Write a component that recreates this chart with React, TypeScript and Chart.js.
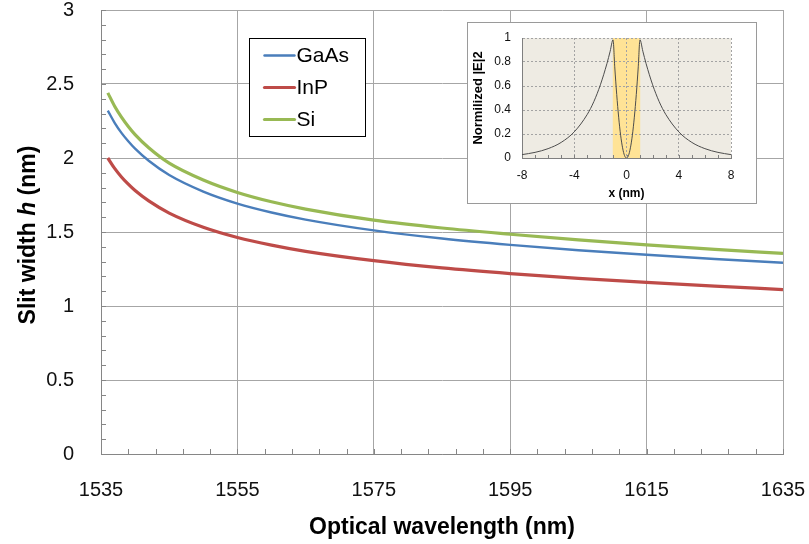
import { useEffect, useRef } from "react";
import { Chart, registerables } from "chart.js";

Chart.register(...registerables);

// ---- main chart data: slit width vs optical wavelength ----
const wavelengthNm = [1536, 1537, 1538, 1539, 1540, 1542, 1545, 1550, 1555, 1560, 1565, 1575, 1585, 1595, 1605, 1615, 1625, 1635];
const slitGaAs = [2.32, 2.238, 2.17, 2.113, 2.063, 1.981, 1.885, 1.773, 1.692, 1.632, 1.584, 1.511, 1.456, 1.413, 1.377, 1.346, 1.318, 1.292];
const slitInP = [2.0, 1.93, 1.872, 1.823, 1.78, 1.71, 1.628, 1.532, 1.463, 1.411, 1.369, 1.306, 1.257, 1.219, 1.187, 1.159, 1.134, 1.111];
const slitSi = [2.44, 2.35, 2.276, 2.213, 2.158, 2.069, 1.965, 1.851, 1.767, 1.704, 1.655, 1.58, 1.527, 1.485, 1.447, 1.413, 1.383, 1.355];
const seriesNames = ["GaAs", "InP", "Si"];
const seriesColors = ["#4a7ebb", "#be4b48", "#98b954"];
const seriesWidths = [2.4, 3.2, 3.2];
const wavelengthTicks = [1535, 1555, 1575, 1595, 1615, 1635];
const slitTicks = [0, 0.5, 1, 1.5, 2, 2.5, 3];

// ---- inset data: normalised field intensity across the slit ----
const fieldX = [-8, -7, -6, -5, -4, -3, -2.5, -2, -1.5, -1.25, -1.03, -0.9, -0.75, -0.6, -0.45, -0.3, -0.15, 0, 0.15, 0.3, 0.45, 0.6, 0.75, 0.9, 1.03, 1.25, 1.5, 2, 2.5, 3, 4, 5, 6, 7, 8];
const fieldIntensity = [0.028, 0.047, 0.078, 0.13, 0.218, 0.364, 0.47, 0.61, 0.786, 0.89, 0.985, 0.76, 0.53, 0.34, 0.19, 0.085, 0.02, 0, 0.02, 0.085, 0.19, 0.34, 0.53, 0.76, 0.985, 0.89, 0.786, 0.61, 0.47, 0.364, 0.218, 0.13, 0.078, 0.047, 0.028];
const slitHalfWidth = 1.05;
const insetXTicks = [-8, -4, 0, 4, 8];
const insetYTicks = [0, 0.2, 0.4, 0.6, 0.8, 1];

const FONT = '"Liberation Sans", Arial, sans-serif';

// keep the plot area exactly where the layout padding puts it
function fixAxis(size: number, horizontal: boolean) {
  return (s: any) => {
    if (horizontal) s.height = size;
    else s.width = size;
    s.paddingTop = 0;
    s.paddingBottom = 0;
    s.paddingLeft = 0;
    s.paddingRight = 0;
  };
}

// small inward minor ticks along the left and bottom axes
function minorTicksPlugin(id: string, xStep: number, yStep: number | null, len: number, color: string) {
  return {
    id,
    afterDraw(chart: any) {
      const { ctx, chartArea, scales } = chart;
      const xs = scales.x;
      const ys = scales.y;
      ctx.save();
      ctx.strokeStyle = color;
      ctx.lineWidth = 1;
      ctx.beginPath();
      for (let v = xs.min; v <= xs.max + 1e-9; v += xStep) {
        const px = Math.round(xs.getPixelForValue(v)) + 0.5;
        ctx.moveTo(px, chartArea.bottom);
        ctx.lineTo(px, chartArea.bottom - len);
      }
      if (yStep !== null) {
        for (let v = ys.min; v <= ys.max + 1e-9; v += yStep) {
          const py = Math.round(ys.getPixelForValue(v)) + 0.5;
          ctx.moveTo(chartArea.left, py);
          ctx.lineTo(chartArea.left + len, py);
        }
      }
      ctx.stroke();
      ctx.restore();
    },
  };
}

// y-axis title with an italic "h"
const slitTitlePlugin = {
  id: "slitTitle",
  afterDraw(chart: any) {
    const { ctx, chartArea } = chart;
    const parts = [
      { t: "Slit width ", f: `bold 23px ${FONT}` },
      { t: "h", f: `italic bold 23px ${FONT}` },
      { t: " (nm)", f: `bold 23px ${FONT}` },
    ];
    ctx.save();
    let total = 0;
    const widths = parts.map((p) => {
      ctx.font = p.f;
      const w = ctx.measureText(p.t).width;
      total += w;
      return w;
    });
    ctx.translate(29, (chartArea.top + chartArea.bottom) / 2 + 3);
    ctx.rotate(-Math.PI / 2);
    ctx.fillStyle = "#000";
    ctx.textBaseline = "middle";
    ctx.textAlign = "left";
    let x = -total / 2;
    parts.forEach((p, i) => {
      ctx.font = p.f;
      ctx.fillText(p.t, x, 0);
      x += widths[i];
    });
    ctx.restore();
  },
};

// boxed legend inside the plot area
const boxLegendPlugin = {
  id: "boxLegend",
  afterDraw(chart: any) {
    const { ctx, chartArea } = chart;
    const left = chartArea.left + 148.5;
    const top = chartArea.top + 28.5;
    const w = 116;
    const h = 98;
    ctx.save();
    ctx.fillStyle = "#fff";
    ctx.fillRect(left, top, w, h);
    ctx.strokeStyle = "#000";
    ctx.lineWidth = 1;
    ctx.strokeRect(left, top, w, h);
    ctx.font = `21px ${FONT}`;
    ctx.textBaseline = "middle";
    ctx.textAlign = "left";
    chart.data.datasets.forEach((ds: any, i: number) => {
      const y = top + 17 + i * 32;
      ctx.strokeStyle = ds.borderColor;
      ctx.lineWidth = ds.borderWidth;
      ctx.lineCap = "round";
      ctx.beginPath();
      ctx.moveTo(left + 15, y);
      ctx.lineTo(left + 45, y);
      ctx.stroke();
      ctx.fillStyle = "#000";
      ctx.fillText(ds.label, left + 47, y + 1);
    });
    ctx.restore();
  },
};

// beige plot background and the highlighted slit region in the inset
const insetBackdropPlugin = {
  id: "insetBackdrop",
  beforeDraw(chart: any) {
    const { ctx, chartArea, scales } = chart;
    ctx.save();
    ctx.fillStyle = "#eeebe3";
    ctx.fillRect(chartArea.left, chartArea.top, chartArea.right - chartArea.left, chartArea.bottom - chartArea.top);
    const x0 = scales.x.getPixelForValue(-slitHalfWidth);
    const x1 = scales.x.getPixelForValue(slitHalfWidth);
    ctx.fillStyle = "#ffe396";
    ctx.fillRect(x0, chartArea.top, x1 - x0, chartArea.bottom - chartArea.top);
    ctx.restore();
  },
};

function MainChart() {
  const ref = useRef<HTMLCanvasElement>(null);
  useEffect(() => {
    const series = [slitGaAs, slitInP, slitSi];
    const chart = new Chart(ref.current!, {
      type: "line",
      data: {
        datasets: series.map((vals, i) => ({
          label: seriesNames[i],
          data: wavelengthNm.map((x, j) => ({ x, y: vals[j] })),
          borderColor: seriesColors[i],
          backgroundColor: seriesColors[i],
          borderWidth: seriesWidths[i],
          pointRadius: 0,
          cubicInterpolationMode: "monotone" as const,
          fill: false,
        })),
      },
      options: {
        animation: false,
        responsive: false,
        devicePixelRatio: 1,
        layout: { padding: { top: 10, right: 26, left: 0, bottom: 0 } },
        plugins: { legend: { display: false }, tooltip: { enabled: false } },
        scales: {
          x: {
            type: "linear",
            min: 1535,
            max: 1635,
            afterBuildTicks: (s: any) => {
              s.ticks = wavelengthTicks.map((value) => ({ value }));
            },
            afterFit: fixAxis(90, true),
            ticks: {
              font: { family: FONT, size: 20, lineHeight: 1 },
              color: "#111",
              padding: 26,
              maxRotation: 0,
              callback: (v: any) => String(v),
            },
            grid: { color: "#a6a6a6", drawTicks: false },
            border: { color: "#868686" },
            title: {
              display: true,
              text: "Optical wavelength (nm)",
              color: "#000",
              font: { family: FONT, size: 23, weight: "bold" },
              padding: { top: 0, bottom: 3 },
            },
          },
          y: {
            type: "linear",
            min: 0,
            max: 3,
            afterBuildTicks: (s: any) => {
              s.ticks = slitTicks.map((value) => ({ value }));
            },
            afterFit: fixAxis(101, false),
            ticks: {
              font: { family: FONT, size: 20, lineHeight: 1 },
              color: "#111",
              padding: 27,
              callback: (v: any) => String(v),
            },
            grid: { color: "#a6a6a6", drawTicks: false },
            border: { color: "#868686" },
          },
        },
      },
      plugins: [minorTicksPlugin("mainMinor", 4, 0.1, 5, "#868686"), slitTitlePlugin, boxLegendPlugin],
    });
    return () => chart.destroy();
  }, []);
  return <canvas ref={ref} width={809} height={544} style={{ position: "absolute", left: 0, top: 0 }} />;
}

function InsetChart() {
  const ref = useRef<HTMLCanvasElement>(null);
  useEffect(() => {
    const chart = new Chart(ref.current!, {
      type: "line",
      data: {
        datasets: [
          {
            label: "|E|2",
            data: fieldX.map((x, j) => ({ x, y: fieldIntensity[j] })),
            borderColor: "#4d4d4d",
            borderWidth: 1,
            pointRadius: 0,
            cubicInterpolationMode: "monotone" as const,
            fill: false,
          },
        ],
      },
      options: {
        animation: false,
        responsive: false,
        devicePixelRatio: 1,
        layout: { padding: { top: 15, right: 25, left: 0, bottom: 0 } },
        plugins: { legend: { display: false }, tooltip: { enabled: false } },
        scales: {
          x: {
            type: "linear",
            min: -8,
            max: 8,
            afterBuildTicks: (s: any) => {
              s.ticks = insetXTicks.map((value) => ({ value }));
            },
            afterFit: fixAxis(45, true),
            ticks: {
              font: { family: FONT, size: 12, lineHeight: 1 },
              color: "#111",
              padding: 12,
              maxRotation: 0,
              callback: (v: any) => String(v),
            },
            grid: { color: "#a3a3a3", drawTicks: false },
            border: { color: "#7f7f7f", dash: [2, 2] },
            title: {
              display: true,
              text: "x (nm)",
              color: "#000",
              font: { family: FONT, size: 12, weight: "bold" },
              padding: { top: 0, bottom: 2 },
            },
          },
          y: {
            type: "linear",
            min: 0,
            max: 1,
            afterBuildTicks: (s: any) => {
              s.ticks = insetYTicks.map((value) => ({ value }));
            },
            afterFit: fixAxis(54, false),
            ticks: {
              font: { family: FONT, size: 12, lineHeight: 1 },
              color: "#111",
              padding: 11,
              callback: (v: any) => String(v),
            },
            grid: { color: "#a3a3a3", drawTicks: false },
            border: { color: "#7f7f7f", dash: [2, 2] },
            title: {
              display: true,
              text: "Normilized |E|2",
              color: "#000",
              font: { family: FONT, size: 13, weight: "bold" },
              padding: { top: 3, bottom: 2 },
            },
          },
        },
      },
      plugins: [insetBackdropPlugin, minorTicksPlugin("insetMinor", 1, null, 3, "#7f7f7f")],
    });
    return () => chart.destroy();
  }, []);
  return (
    <div
      style={{
        position: "absolute",
        left: 467,
        top: 22,
        width: 288,
        height: 180,
        border: "1px solid #9a9a9a",
        background: "#fff",
      }}
    >
      <canvas ref={ref} width={288} height={180} style={{ display: "block" }} />
    </div>
  );
}

export default function App() {
  return (
    <div style={{ position: "fixed", left: 0, top: 0, width: 809, height: 544, background: "#fff", overflow: "hidden" }}>
      <MainChart />
      <InsetChart />
    </div>
  );
}
